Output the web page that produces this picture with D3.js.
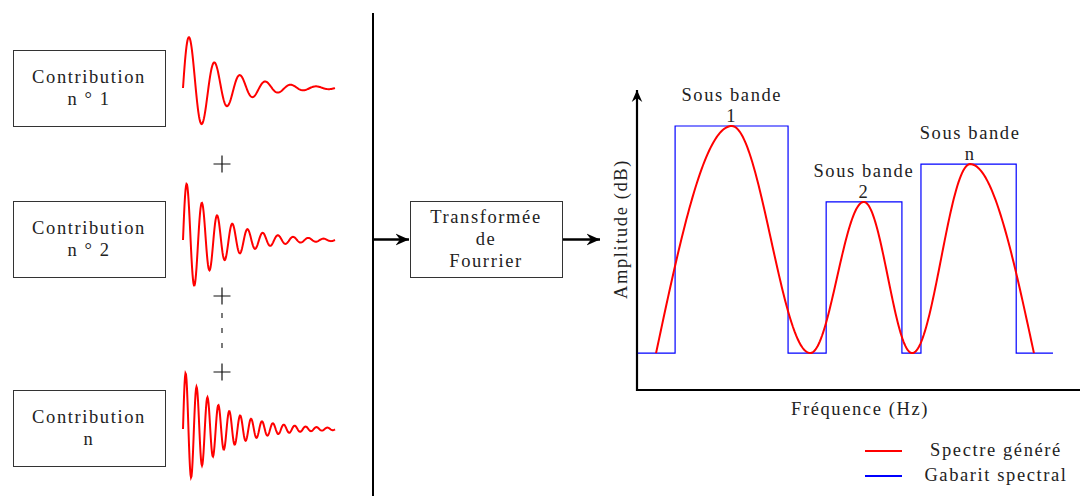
<!DOCTYPE html>
<html><head><meta charset="utf-8">
<script src="https://cdn.jsdelivr.net/npm/d3@7"></script>
<style>body{margin:0;background:#fff}svg text{font-family:"Liberation Serif","Times New Roman",serif;font-size:18.5px;letter-spacing:1.6px;fill:#222}</style>
</head><body><svg id="c" width="1080" height="496"></svg>
<script>
// ---- data ----
const contributions = [["Contribution","n ° 1"],["Contribution","n ° 2"],["Contribution","n"]];
const signalPeriods = [25.4, 15.2, 10.9];      // px per oscillation
const signalAmplitude = [60, 62, 60];
const signalDecay = [0.027, 0.027, 0.026];
const fourierLabel = ["Transformée","de","Fourrier"];
// spectrum (arbitrary units: freq 0..100, amplitude 0..100)
const gabaritF = [0.2, 8.6, 8.6, 34.1, 34.1, 42.7, 42.7, 59.8, 59.8, 64.1, 64.1, 85.6, 85.6, 93.9];
const gabaritA = [12.3, 12.3, 88, 88, 12.3, 12.3, 62.7, 62.7, 12.3, 12.3, 75.3, 75.3, 12.3, 12.3];
const spectreF = [4.3, 21.4, 39.1, 51.2, 62.1, 75.2, 89.6];
const spectreA = [12.3, 88, 12.3, 62.7, 12.3, 75.3, 12.3];
const bandLabels = [["Sous bande","1"],["Sous bande","2"],["Sous bande","n"]];
const bandF = [21.4, 51.2, 75.2];
const bandA = [88, 62.7, 75.3];
const legendLabels = ["Spectre généré","Gabarit spectral"];
const legendColors = ["#ff0000","#0000ff"];

const svg = d3.select("#c");
const defs = svg.append("defs");
defs.append("marker").attr("id","ah").attr("viewBox","0 0 10 10").attr("refX",9).attr("refY",5)
  .attr("markerWidth",6).attr("markerHeight",6).attr("orient","auto")
  .append("path").attr("d","M0,1 L9,5 L0,9 L3,5 Z").attr("fill","#000");

// ---- left: contribution boxes ----
const boxY = [50, 201, 390];
const baseY = [88, 240, 429];
contributions.forEach((lines,i)=>{
  svg.append("rect").attr("x",13.5).attr("y",boxY[i]+0.5).attr("width",152).attr("height",76)
    .attr("fill","none").attr("stroke","#333").attr("stroke-width",1);
  lines.forEach((t,j)=>{
    svg.append("text").attr("x",89).attr("y",boxY[i]+33+j*22).attr("text-anchor","middle").text(t);
  });
  // damped sinusoid
  const xs = d3.range(0, 152.5, 0.5);
  const line = d3.line().x(d=>183+d).y(d=>baseY[i]-signalAmplitude[i]*Math.exp(-signalDecay[i]*d)*Math.sin(2*Math.PI*d/signalPeriods[i]));
  svg.append("path").attr("d",line(xs)).attr("fill","none").attr("stroke","#ff0000").attr("stroke-width",2);
});
// plus signs
[164, 296, 372].forEach(y=>{
  svg.append("path").attr("d",`M213.5,${y}H230.5M222,${y-8.5}V${y+8.5}`).attr("stroke","#111").attr("stroke-width",1.2);
});
svg.append("line").attr("x1",222).attr("x2",222).attr("y1",313).attr("y2",355)
  .attr("stroke","#222").attr("stroke-width",1.2).attr("stroke-dasharray","5,10");

// separator
svg.append("line").attr("x1",373).attr("x2",373).attr("y1",13).attr("y2",496).attr("stroke","#000").attr("stroke-width",2);

// Fourier box
svg.append("rect").attr("x",410.5).attr("y",201.5).attr("width",152).attr("height",76)
  .attr("fill","none").attr("stroke","#333").attr("stroke-width",1);
fourierLabel.forEach((t,j)=>svg.append("text").attr("x",486).attr("y",223+j*22).attr("text-anchor","middle").text(t));
svg.append("line").attr("x1",373).attr("x2",409).attr("y1",239.5).attr("y2",239.5).attr("stroke","#000").attr("stroke-width",2.5).attr("marker-end","url(#ah)");
svg.append("line").attr("x1",563).attr("x2",600).attr("y1",239.5).attr("y2",239.5).attr("stroke","#000").attr("stroke-width",2.5).attr("marker-end","url(#ah)");

// ---- spectrum chart ----
const x = d3.scaleLinear().domain([0,100]).range([637,1080]);
const y = d3.scaleLinear().domain([0,100]).range([390,90]);
svg.append("line").attr("x1",x(0)).attr("x2",x(0)).attr("y1",y(0)+1).attr("y2",y(100)).attr("stroke","#000").attr("stroke-width",2.2).attr("marker-end","url(#ah)");
svg.append("line").attr("x1",x(0)-1).attr("x2",x(100)+20).attr("y1",y(0)).attr("y2",y(0)).attr("stroke","#000").attr("stroke-width",2.2);

const gab = gabaritF.map((f,i)=>[f,gabaritA[i]]);
svg.append("path").attr("d",d3.line().x(d=>x(d[0])).y(d=>y(d[1]))(gab)).attr("fill","none").attr("stroke","#0000ff").attr("stroke-width",1.2);

// spectrum between key points: quarter-sine on the outer flanks, half-cosine elsewhere
const pts = [];
const nSeg = spectreF.length-1;
for(let k=0;k<nSeg;k++){
  for(let s=0;s<=1.0001;s+=0.02){
    const f = spectreF[k]+(spectreF[k+1]-spectreF[k])*s;
    let w;
    if(k===0) w = Math.sin(Math.PI/2*s);
    else if(k===nSeg-1) w = 1-Math.cos(Math.PI/2*s);
    else w = (1-Math.cos(Math.PI*s))/2;
    const a = spectreA[k]+(spectreA[k+1]-spectreA[k])*w;
    pts.push([f,a]);
  }
}
svg.append("path").attr("d",d3.line().x(d=>x(d[0])).y(d=>y(d[1]))(pts)).attr("fill","none").attr("stroke","#ff0000").attr("stroke-width",2);

bandLabels.forEach((l,i)=>{
  l.forEach((t,j)=>svg.append("text").attr("x",x(bandF[i])).attr("y",y(bandA[i])-25+j*21).attr("text-anchor","middle").text(t));
});

svg.append("text").attr("transform",`translate(627,229) rotate(-90)`).attr("text-anchor","middle").text("Amplitude (dB)");
svg.append("text").attr("x",860).attr("y",415).attr("text-anchor","middle").text("Fréquence (Hz)");

// legend
legendLabels.forEach((t,i)=>{
  const ly = 451+i*25;
  svg.append("line").attr("x1",865).attr("x2",902).attr("y1",ly).attr("y2",ly).attr("stroke",legendColors[i]).attr("stroke-width",2);
  svg.append("text").attr("x",996).attr("y",ly+5).attr("text-anchor","middle").text(t);
});
</script></body></html>
